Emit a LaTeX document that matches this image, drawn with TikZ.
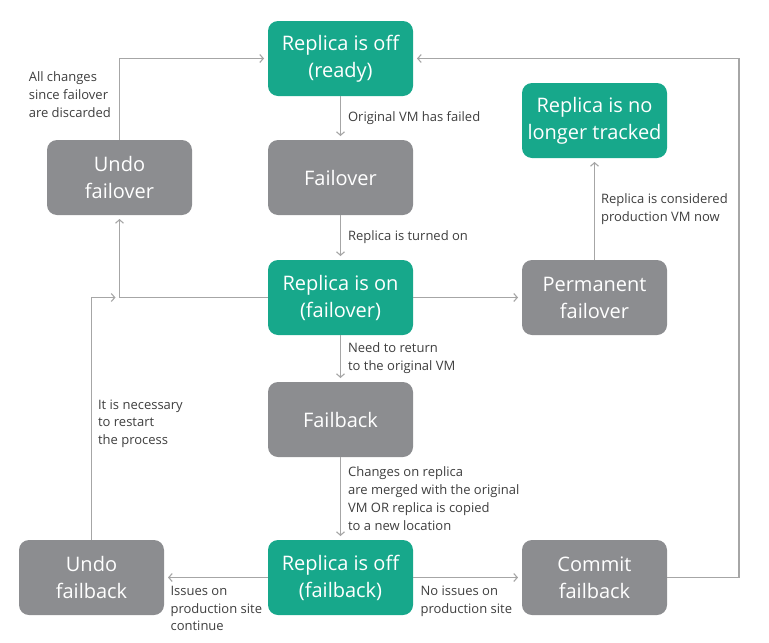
\documentclass[tikz,border=0pt]{standalone}
\usepackage{fontspec}
\setmainfont{Open Sans}
\usetikzlibrary{positioning, arrows.meta}
\definecolor{stategreen}{HTML}{17A88B}
\definecolor{stategray}{HTML}{8C8D90}
\definecolor{linegray}{HTML}{A6A6A6}
\definecolor{labelgray}{HTML}{3E3E3E}
\tikzset{>={Straight Barb[length=3.5pt,width=8pt,line width=1.1pt]}}
\tikzset{
  statebox/.style = {rounded corners = 10pt, minimum width = \minnodewidth, minimum height = \minnodeheight, align = center, text = white, font = \fontsize{20}{27}\selectfont, inner sep = 2pt, outer sep = 0pt},
  greenbox/.style = {statebox, fill = stategreen},
  graybox/.style = {statebox, fill = stategray},
  conn/.style = {->, draw = linegray, line width = 1.2pt, shorten > = 4pt},
  lbl/.style = {text = labelgray, align = left, font = \fontsize{13}{17.8}\selectfont, inner sep = 0pt}
}
\def \minnodewidth {145pt}
\def \minnodeheight {75pt}

\begin{document}
\begin{tikzpicture}
\useasboundingbox (0pt, 0pt) rectangle (769pt, -643pt);

\node (ready) [greenbox] at (340.5pt, -58.5pt) {Replica is off\\(ready)};

\node (failover) [graybox, below = 44pt of ready] {Failover};

\draw[conn] (ready) -- node[lbl, right = 7pt, midway] {Original VM has failed} (failover);

\node (on) [greenbox, below = 45pt of failover] {Replica is on\\(failover)};

\draw[conn] (failover) -- node[lbl, right = 7pt, midway] {Replica is turned on} (on);

\node (failback) [graybox, below = 47pt of on] {Failback};

\draw[conn] (on) -- node[lbl, right = 7pt, midway] {Need to return\\to the original VM} (failback);

\node (offfb) [greenbox, below = 83pt of failback] {Replica is off\\(failback)};

\draw[conn] (failback) -- node[lbl, right = 7pt, midway] {Changes on replica\\are merged with the original\\VM OR replica is copied\\to a new location} (offfb);

\node (undofo) [graybox, left = 76pt of failover] {Undo\\failover};

\draw[conn] (undofo.north) |- node[lbl, pos = 0.28, left = 8pt] {All changes\\since failover\\are discarded} (ready.west);
\draw[conn] (on.west) -| (undofo.south);

\node (undofb) [graybox, left = 104pt of offfb] {Undo\\failback};

\coordinate (join) at (undofo.south |- on.west);
\draw[conn] (undofb.north) |- node[lbl, pos = 0.24, right = 6pt] {It is necessary\\to restart\\the process} (join);
\draw[conn] (offfb.west) -- node[lbl, pos = 1, anchor = north west, xshift = 6pt, yshift = -8pt] {Issues on\\production site\\continue} (undofb.east);

\node (commit) [graybox, right = 109pt of offfb] {Commit\\failback};

\draw[conn] (offfb.east) -- node[lbl, pos = 0, anchor = north west, xshift = 7pt, yshift = -8pt] {No issues on\\production site} (commit.west);

\coordinate (rail) at ([xshift = 72pt] commit.east);
\draw[conn] (commit.east) -- (rail) |- (ready.east);

\node (perm) [graybox, right = 109pt of on] {Permanent\\failover};

\draw[conn] (on) -- (perm);

\node (tracked) [greenbox, above = 102pt of perm] {Replica is no\\longer tracked};

\draw[conn] (perm) -- node[lbl, right = 6pt, midway] {Replica is considered\\production VM now} (tracked);

\end{tikzpicture}
\end{document}
